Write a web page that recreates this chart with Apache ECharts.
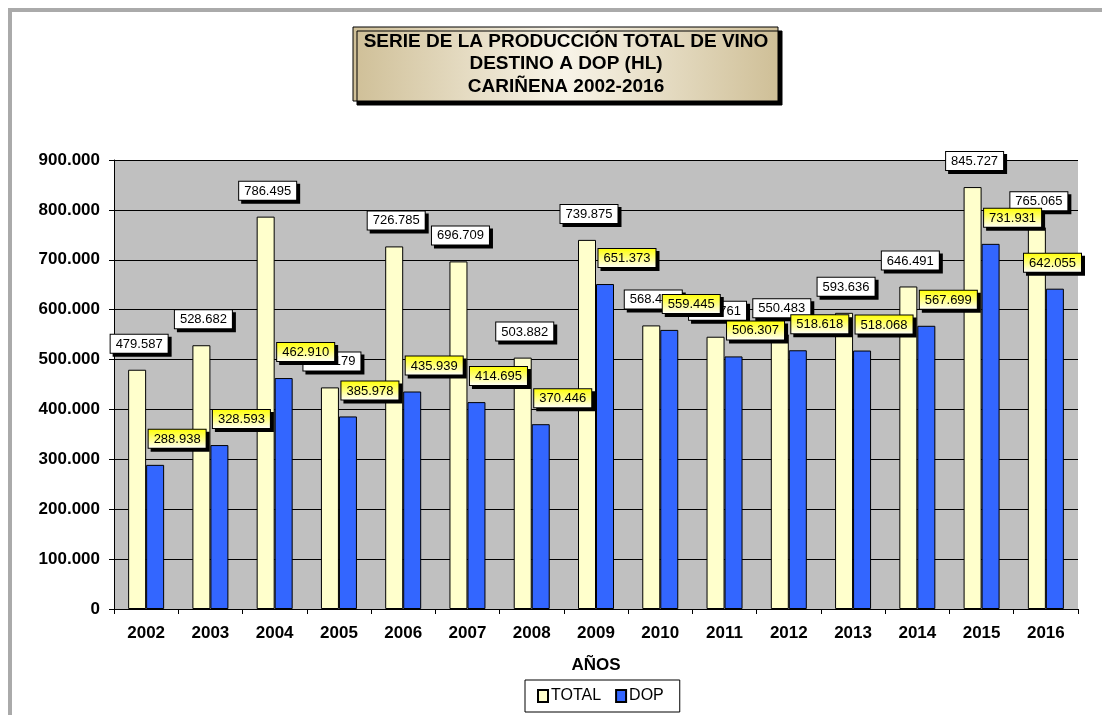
<!DOCTYPE html>
<html>
<head>
    <meta charset="utf-8">
    <title>Producción vino Cariñena</title>
    <script src="https://cdn.jsdelivr.net/npm/echarts@6/dist/echarts.min.js"></script>
    <style>
        html, body {
            width: 100%;
            height: 100%;
            margin: 0;
            background: #ffffff;
        }
        #main {
            width: 1102px;
            height: 715px;
        }
    </style>
</head>
<body>
    <div id="main"></div>
    <script type="text/javascript">
        // datos
        var years = ['2002', '2003', '2004', '2005', '2006', '2007', '2008', '2009',
                     '2010', '2011', '2012', '2013', '2014', '2015', '2016'];
        var total = [479587, 528682, 786495, 444179, 726785, 696709, 503882, 739875,
                     568442, 545761, 550483, 593636, 646491, 845727, 765065];
        var dop = [288938, 328593, 462910, 385978, 435939, 414695, 370446, 651373,
                   559445, 506307, 518618, 518068, 567699, 731931, 642055];
        var seriesNames = ['TOTAL', 'DOP'];
        var titleLines = ['SERIE DE LA PRODUCCIÓN TOTAL DE VINO', 'DESTINO A DOP (HL)', 'CARIÑENA 2002-2016'];

        var FONT = '"Liberation Sans", Arial, sans-serif';
        var labelShift = [2, 22];   // desplazamiento horizontal de las etiquetas por serie

        function miles(v) {
            return String(v).replace(/\B(?=(\d{3})+(?!\d))/g, '.');
        }

        var myChart = echarts.init(document.getElementById('main'));

        var labelBase = {
            show: true,
            position: 'top',
            distance: 17,
            color: '#000',
            fontSize: 13,
            fontFamily: FONT,
            borderColor: '#000',
            borderWidth: 1,
            padding: [3, 5, 2, 5],
            shadowColor: '#000',
            shadowOffsetX: 3,
            shadowOffsetY: 3,
            shadowBlur: 0,
            formatter: function (p) { return miles(p.value); }
        };

        var option = {
            animation: false,
            backgroundColor: '#ffffff',
            textStyle: { fontFamily: FONT },
            grid: {
                left: 114,
                right: 24,
                top: 160,
                bottom: 106,
                show: true,
                backgroundColor: '#C0C0C0',
                borderWidth: 0
            },
            legend: {
                data: seriesNames,
                left: 525,
                top: 680,
                padding: [8, 16, 8, 12],
                itemGap: 14,
                itemWidth: 10,
                itemHeight: 12,
                borderColor: '#000',
                borderWidth: 1,
                backgroundColor: '#fff',
                icon: 'rect',
                textStyle: { fontSize: 16, color: '#000', fontFamily: FONT, padding: [0, 0, 0, -2] }
            },
            // desplaza las etiquetas; las que se salen por la derecha se meten dentro
            labelLayout: function (params) {
                var r = params.labelRect;
                var dx = labelShift[params.seriesIndex] || 0;
                if (r.x + dx + r.width > 1082) {
                    dx = 1082 - (r.x + r.width);
                }
                return { dx: dx };
            },
            graphic: [
                { type: 'rect', shape: { x: 8, y: 8, width: 1094, height: 4 }, style: { fill: '#AAAAAA' }, silent: true },
                { type: 'rect', shape: { x: 8, y: 8, width: 4, height: 707 }, style: { fill: '#AAAAAA' }, silent: true },
                {
                    type: 'rect',
                    shape: { x: 353, y: 27, width: 425, height: 74 },
                    style: {
                        fill: new echarts.graphic.LinearGradient(0, 0, 1, 0, [
                            { offset: 0, color: '#CFBF97' },
                            { offset: 0.5, color: '#F8F4E8' },
                            { offset: 1, color: '#CFBF97' }
                        ]),
                        stroke: '#000',
                        lineWidth: 1,
                        shadowColor: '#000',
                        shadowOffsetX: 4,
                        shadowOffsetY: 4,
                        shadowBlur: 0
                    },
                    silent: true
                },
                {
                    type: 'text',
                    x: 566,
                    y: 64,
                    style: {
                        text: titleLines.join('\n'),
                        font: 'bold 19px ' + FONT,
                        fill: '#000',
                        align: 'center',
                        verticalAlign: 'middle',
                        lineHeight: 22.5
                    },
                    silent: true
                }
            ],
            xAxis: {
                type: 'category',
                data: years,
                name: 'AÑOS',
                nameLocation: 'middle',
                nameGap: 48,
                nameTextStyle: { fontSize: 17, fontWeight: 'bold', color: '#000', fontFamily: FONT },
                axisLine: { lineStyle: { color: '#000', width: 1 } },
                axisTick: { show: true, length: 5, lineStyle: { color: '#000' } },
                axisLabel: { margin: 16, fontSize: 17, fontWeight: 'bold', color: '#000', fontFamily: FONT },
                splitLine: { show: false }
            },
            yAxis: {
                type: 'value',
                min: 0,
                max: 900000,
                interval: 100000,
                axisLine: { show: true, lineStyle: { color: '#000', width: 1 } },
                axisTick: { show: true, length: 5, lineStyle: { color: '#000' } },
                axisLabel: {
                    margin: 14,
                    fontSize: 17,
                    fontWeight: 'bold',
                    color: '#000',
                    fontFamily: FONT,
                    formatter: function (v) { return miles(v); }
                },
                splitLine: { show: true, lineStyle: { color: '#000', width: 1 } }
            },
            series: [
                {
                    name: seriesNames[0],
                    type: 'bar',
                    data: total,
                    barWidth: 18,
                    barGap: '0%',
                    itemStyle: { color: '#FFFFCC', borderColor: '#000', borderWidth: 1 },
                    label: Object.assign({}, labelBase, { backgroundColor: '#ffffff' }),
                    z: 2
                },
                {
                    name: seriesNames[1],
                    type: 'bar',
                    data: dop,
                    barWidth: 18,
                    barGap: '0%',
                    itemStyle: { color: '#3366FF', borderColor: '#000', borderWidth: 1 },
                    label: Object.assign({}, labelBase, {
                        backgroundColor: new echarts.graphic.LinearGradient(0, 0, 0, 1, [
                            { offset: 0, color: '#FFFF00' },
                            { offset: 1, color: '#FFFFFF' }
                        ])
                    }),
                    z: 3
                }
            ]
        };

        myChart.setOption(option);
    </script>
</body>
</html>
